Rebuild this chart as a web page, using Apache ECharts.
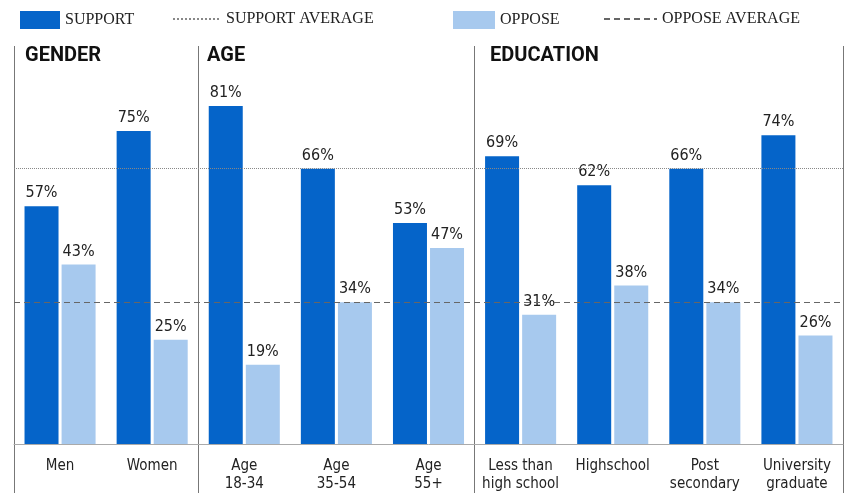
<!DOCTYPE html>
<html>
<head>
<meta charset="utf-8">
<script src="https://cdn.jsdelivr.net/npm/echarts@6/dist/echarts.min.js"></script>
<style>
  html, body { margin: 0; padding: 0; background: #fff; }
  #supportChart { width: 847px; height: 493px; }
</style>
</head>
<body>
<div id="supportChart"></div>
<script>
// categories (groups: gender 0-1, age 2-4, education 5-8)
const categories = [
  "Men", "Women",
  "Age\n18-34", "Age\n35-54", "Age\n55+",
  "Less than\nhigh school", "Highschool", "Post\nsecondary", "University\ngraduate"
];
const supportValues = [57, 75, 81, 66, 53, 69, 62, 66, 74];
const opposeValues = [43, 25, 19, 34, 47, 31, 38, 34, 26];
const supportAverage = 66;
const opposeAverage = 34;
const groupTitles = ["GENDER", "AGE", "EDUCATION"];
const groupStarts = [0, 2, 5]; // category index where each group begins

const narrow = "'Liberation Sans Narrow', 'DejaVu Sans Condensed', 'Roboto', sans-serif";
const serif = "'Liberation Serif', 'DejaVu Serif', serif";

let chart = echarts.init(document.getElementById("supportChart"));

let legendText = { fontFamily: serif, fontSize: 16, color: "#222" };

let option = {
  animation: false,
  legend: [
    { data: ["SUPPORT"], icon: "rect", left: 15, top: 6, itemWidth: 40, itemHeight: 18, textStyle: legendText },
    {
      data: [{ name: "SUPPORT AVERAGE", itemStyle: { opacity: 0 } }],
      left: 167, top: 6, itemWidth: 48, itemHeight: 18, textStyle: legendText
    },
    { data: ["OPPOSE"], icon: "rect", left: 448, top: 6, itemWidth: 42, itemHeight: 18, textStyle: legendText },
    {
      data: [{ name: "OPPOSE AVERAGE", itemStyle: { opacity: 0 } }],
      left: 598, top: 6, itemWidth: 53, itemHeight: 18, textStyle: legendText
    }
  ],
  title: groupTitles.map((t, i) => ({
    text: t,
    left: [20, 202, 485][i],
    top: 41,
    textStyle: { fontFamily: "Roboto, sans-serif", fontSize: 20, fontWeight: "bold", color: "#111" }
  })),
  grid: { left: 14, right: 4, top: 46, bottom: 0, outerBoundsMode: "none", containLabel: false },
  xAxis: {
    type: "category",
    data: categories,
    axisLine: { onZero: true, lineStyle: { color: "#aaa", width: 1 } },
    axisTick: { show: false },
    axisLabel: {
      interval: 0,
      inside: true,
      verticalAlign: "top",
      margin: 36,
      color: "#222",
      fontFamily: narrow,
      fontSize: 15,
      lineHeight: 18
    },
    splitLine: {
      show: true,
      interval: function (index) {
        return groupStarts.indexOf(index) >= 0 || index === categories.length;
      },
      lineStyle: { color: "#777", width: 1 }
    }
  },
  yAxis: {
    type: "value",
    min: -11.75,
    max: 95.4,
    show: false,
    splitLine: { show: false }
  },
  series: [
    {
      name: "SUPPORT",
      type: "bar",
      data: supportValues,
      barWidth: 34,
      barGap: "9%",
      itemStyle: { color: "#0564c9" },
      label: {
        show: true,
        position: "top",
        distance: 5,
        formatter: "{c}%",
        fontFamily: narrow,
        fontSize: 16,
        color: "#222"
      }
    },
    {
      name: "OPPOSE",
      type: "bar",
      data: opposeValues,
      barWidth: 34,
      itemStyle: { color: "#a7c9ee" },
      label: {
        show: true,
        position: "top",
        distance: 5,
        formatter: "{c}%",
        fontFamily: narrow,
        fontSize: 16,
        color: "#222"
      }
    },
    {
      name: "SUPPORT AVERAGE",
      type: "line",
      data: [],
      symbol: "none",
      lineStyle: { color: "#888", type: "dotted", width: 1 },
      markLine: {
        silent: true,
        symbol: "none",
        label: { show: false },
        lineStyle: { color: "#888", type: "dotted", width: 1 },
        data: [{ yAxis: supportAverage }]
      }
    },
    {
      name: "OPPOSE AVERAGE",
      type: "line",
      data: [],
      symbol: "none",
      lineStyle: { color: "#666", type: [6, 4], width: 1.2 },
      markLine: {
        silent: true,
        symbol: "none",
        label: { show: false },
        lineStyle: { color: "#666", type: [6, 4], width: 1.2 },
        data: [{ yAxis: opposeAverage }]
      }
    }
  ]
};

chart.setOption(option);
</script>
</body>
</html>
